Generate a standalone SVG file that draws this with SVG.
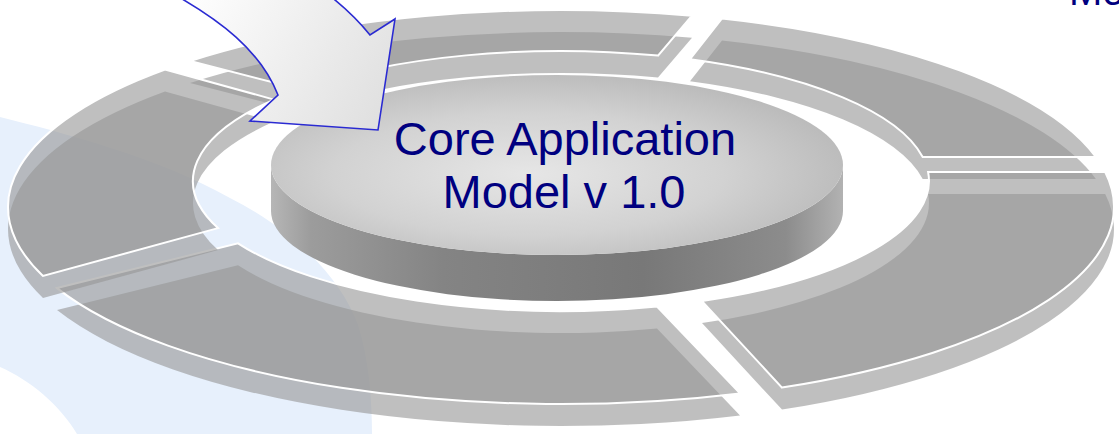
<svg xmlns="http://www.w3.org/2000/svg" xmlns:xlink="http://www.w3.org/1999/xlink" width="1119" height="434" viewBox="0 0 1119 434">
<style>
.lower{fill:#969696;fill-opacity:0.61;stroke:none}
.upper{fill:#969696;fill-opacity:0.61;stroke:#ffffff;stroke-width:2;stroke-linejoin:miter}
.lbl{font-family:"Liberation Sans",Arial,sans-serif;fill:#000080;text-anchor:middle}
</style>
<defs>
<path id="pTop" d="M190,61 A553,197 0 0 1 692,15.7 L658,55.6 A368,130 0 0 0 300,89.3 Z"/>
<path id="pTopRight" d="M722,18.5 A553,197 0 0 1 1095.9,157 L922.7,157 A368,130 0 0 0 690,59.2 Z"/>
<path id="pRight" d="M1105.2,172 A553,197 0 0 1 782,387.6 L702,301.1 A368,130 0 0 0 928.1,172 Z"/>
<path id="pBottom" d="M740,393.4 A553,197 0 0 1 57,288.1 L238,243.3 A368,130 0 0 0 657,306.5 Z"/>
<path id="pLeft" d="M43,276 A553,197 0 0 1 165,69.5 L274,99.6 A368,130 0 0 0 218,228.1 Z"/>
<linearGradient id="wallGrad" x1="271" y1="0" x2="843" y2="0" gradientUnits="userSpaceOnUse">
<stop offset="0" stop-color="#b6b6b6"/>
<stop offset="0.07" stop-color="#9c9c9c"/>
<stop offset="0.3" stop-color="#848484"/>
<stop offset="0.65" stop-color="#787878"/>
<stop offset="0.9" stop-color="#8c8c8c"/>
<stop offset="1" stop-color="#b2b2b2"/>
</linearGradient>
<radialGradient id="topGrad" cx="0.45" cy="0.55" r="0.62">
<stop offset="0" stop-color="#e6e6e6"/>
<stop offset="0.55" stop-color="#d2d2d2"/>
<stop offset="1" stop-color="#b6b6b6"/>
</radialGradient>
<linearGradient id="arrowGrad" x1="180" y1="0" x2="390" y2="130" gradientUnits="userSpaceOnUse">
<stop offset="0" stop-color="#ffffff"/>
<stop offset="1" stop-color="#dedede"/>
</linearGradient>
</defs>
<rect x="0" y="0" width="1119" height="434" fill="#ffffff"/>
<path id="backdrop" d="M0,117 C60,132 160,158 230,198 C290,228 340,275 358,325 C369,360 372,400 372,434 L77,434 C60,405 30,380 0,367 Z" fill="#e7f0fc"/>
<g id="ring">
<g id="segment-top"><use xlink:href="#pTop" href="#pTop" class="lower" transform="translate(0,22)"/><use xlink:href="#pTop" href="#pTop" class="upper"/></g>
<g id="segment-top-right"><use xlink:href="#pTopRight" href="#pTopRight" class="lower" transform="translate(0,22)"/><use xlink:href="#pTopRight" href="#pTopRight" class="upper"/></g>
<g id="segment-right"><use xlink:href="#pRight" href="#pRight" class="lower" transform="translate(0,22)"/><use xlink:href="#pRight" href="#pRight" class="upper"/></g>
<g id="segment-bottom"><use xlink:href="#pBottom" href="#pBottom" class="lower" transform="translate(0,22)"/><use xlink:href="#pBottom" href="#pBottom" class="upper"/></g>
<g id="segment-left"><use xlink:href="#pLeft" href="#pLeft" class="lower" transform="translate(0,22)"/><use xlink:href="#pLeft" href="#pLeft" class="upper"/></g>
</g>
<g id="core">
<path d="M271,165 L271,211 A286,90 0 0 0 843,211 L843,165 A286,90 0 0 1 271,165 Z" fill="url(#wallGrad)"/>
<ellipse cx="557" cy="165" rx="286" ry="90" fill="url(#topGrad)"/>
<text class="lbl" x="565" y="155" font-size="47">Core Application</text>
<text class="lbl" x="564" y="208" font-size="47">Model v 1.0</text>
</g>
<g id="connectors">
<path d="M170,-8 C220,20 260,50 278,95 L250,121 L378,130 L395,19 L370,35 C358,20 342,5 325,-8 Z" fill="url(#arrowGrad)" stroke="#2a2ad2" stroke-width="1.6" stroke-linejoin="miter"/>
</g>
<g id="title-fragment">
<text x="1069" y="5" font-family="Liberation Sans, Arial, sans-serif" font-size="40" fill="#000080">Mo</text>
</g>
</svg>
